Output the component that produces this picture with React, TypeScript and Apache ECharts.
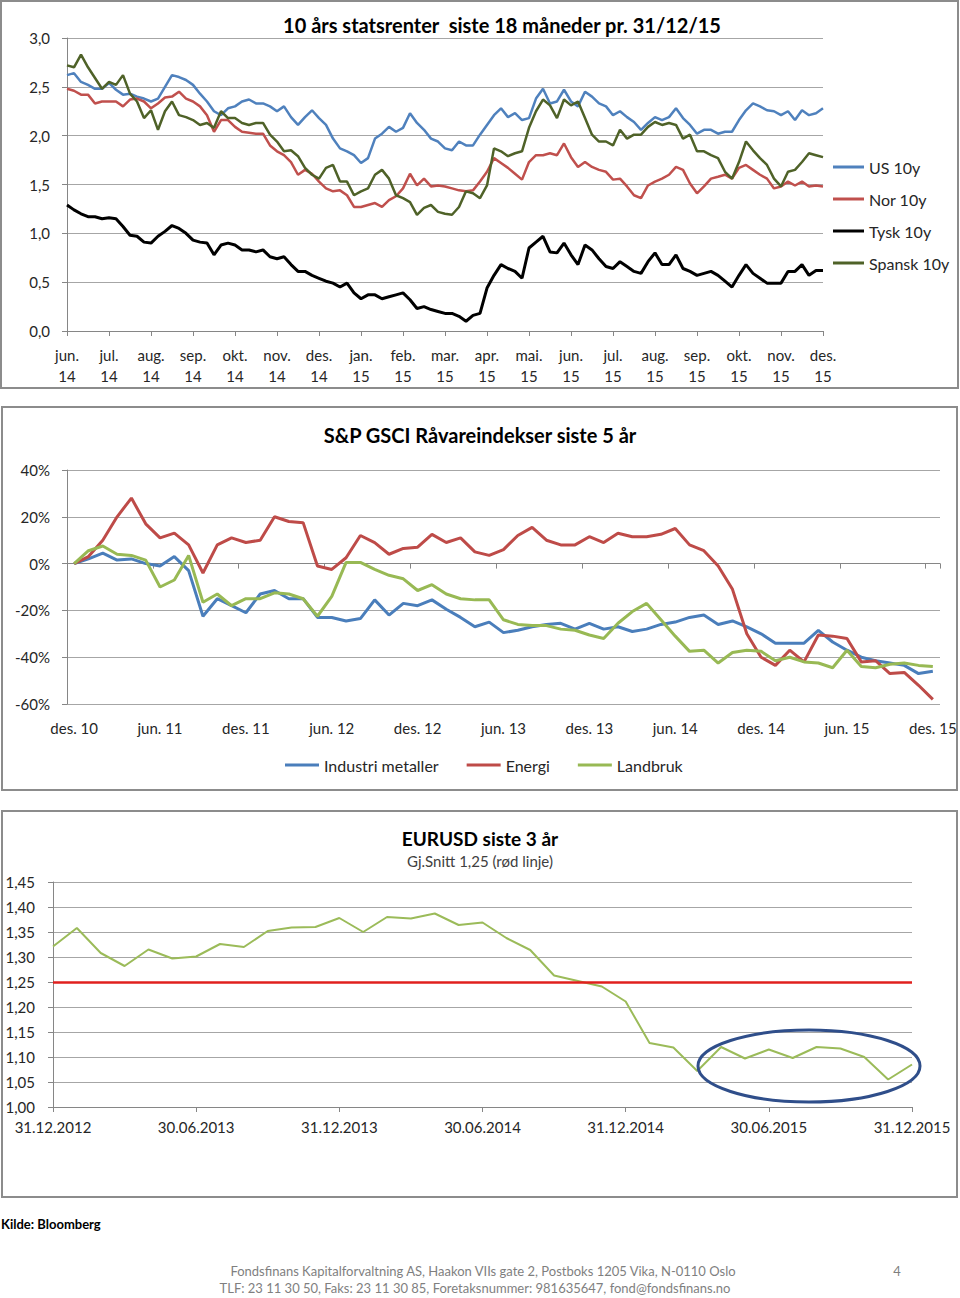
import React, { useEffect, useRef } from "react";
import * as echarts from "echarts";

const FONT = "Lato, 'Noto Sans', sans-serif";
const TEXT = "#262626";
const AXIS = "#868686";
const GRID = "#a6a6a6";

// ---------- Chart 1: 10 års statsrenter (6 points per month, jun 14 – des 15)
const rateMonthLabels = [
  "jun.\n14", "jul.\n14", "aug.\n14", "sep.\n14", "okt.\n14", "nov.\n14", "des.\n14",
  "jan.\n15", "feb.\n15", "mar.\n15", "apr.\n15", "mai.\n15", "jun.\n15", "jul.\n15",
  "aug.\n15", "sep.\n15", "okt.\n15", "nov.\n15", "des.\n15",
];
const pointsPerMonth = 6;
const rateTicks = [0, 0.5, 1.0, 1.5, 2.0, 2.5, 3.0];

const us10y = [
  2.62, 2.64, 2.55, 2.52, 2.48, 2.48, 2.54, 2.47, 2.42, 2.43,
  2.4, 2.38, 2.35, 2.38, 2.5, 2.62, 2.6, 2.57, 2.52, 2.43,
  2.35, 2.25, 2.21, 2.28, 2.3, 2.35, 2.37, 2.33,
  2.33, 2.3, 2.25, 2.3, 2.19, 2.11, 2.19, 2.26, 2.18, 2.11,
  1.97, 1.87, 1.84, 1.8, 1.72, 1.77, 1.97, 2.02, 2.09, 2.04,
  2.08, 2.23, 2.13, 2.06, 1.97, 1.94, 1.87,
  1.85, 1.94, 1.9, 1.9, 2.01, 2.11, 2.21, 2.28, 2.19, 2.23,
  2.16, 2.18, 2.38, 2.48, 2.33, 2.35, 2.47, 2.35, 2.3, 2.45,
  2.4, 2.33, 2.3, 2.21, 2.25, 2.19, 2.14,
  2.06, 2.13, 2.19, 2.16, 2.19, 2.28, 2.18, 2.11, 2.02, 2.06,
  2.06, 2.02, 2.04, 2.04, 2.16, 2.26, 2.33, 2.3, 2.26, 2.25,
  2.21, 2.25, 2.16, 2.26, 2.21, 2.23, 2.28,
];
const nor10y = [
  2.48, 2.46, 2.42, 2.42, 2.33, 2.35, 2.35, 2.35, 2.3, 2.37,
  2.38, 2.35, 2.28, 2.33, 2.39, 2.4, 2.45, 2.38, 2.35, 2.3,
  2.21, 2.04, 2.16, 2.16, 2.09, 2.04, 2.03, 2.02,
  2.02, 1.9, 1.84, 1.8, 1.73, 1.6, 1.65, 1.61, 1.53, 1.46,
  1.43, 1.44, 1.39, 1.27, 1.27, 1.29, 1.31, 1.27, 1.34, 1.38,
  1.46, 1.61, 1.49, 1.56, 1.48, 1.49, 1.48,
  1.46, 1.44, 1.43, 1.44, 1.53, 1.63, 1.77, 1.72, 1.67, 1.61,
  1.55, 1.73, 1.8, 1.8, 1.82, 1.8, 1.92, 1.78, 1.68, 1.73,
  1.68, 1.65, 1.63, 1.55, 1.56, 1.48, 1.39,
  1.36, 1.49, 1.53, 1.56, 1.6, 1.68, 1.65, 1.51, 1.41, 1.48,
  1.56, 1.58, 1.6, 1.56, 1.67, 1.7, 1.65, 1.6, 1.56, 1.46,
  1.48, 1.53, 1.49, 1.53, 1.48, 1.49, 1.48,
];
const tysk10y = [
  1.29, 1.24, 1.2, 1.17, 1.17, 1.15, 1.16, 1.15, 1.07, 0.98,
  0.97, 0.91, 0.9, 0.97, 1.02, 1.08, 1.05, 1.0, 0.93, 0.91,
  0.9, 0.78, 0.88, 0.9, 0.88, 0.83, 0.83, 0.81,
  0.83, 0.76, 0.74, 0.76, 0.68, 0.61, 0.61, 0.57, 0.54, 0.51,
  0.49, 0.45, 0.49, 0.39, 0.33, 0.37, 0.37, 0.33, 0.35, 0.37,
  0.39, 0.32, 0.23, 0.25, 0.22, 0.2, 0.18,
  0.18, 0.15, 0.1, 0.16, 0.18, 0.44, 0.57, 0.68, 0.64, 0.61,
  0.54, 0.85, 0.91, 0.97, 0.81, 0.8, 0.9, 0.78, 0.68, 0.88,
  0.83, 0.74, 0.66, 0.64, 0.71, 0.66, 0.61,
  0.59, 0.71, 0.8, 0.68, 0.68, 0.78, 0.64, 0.61, 0.57, 0.59,
  0.61, 0.57, 0.51, 0.45, 0.57, 0.68, 0.59, 0.54, 0.49, 0.49,
  0.49, 0.61, 0.61, 0.68, 0.57, 0.62, 0.62,
];
const spansk10y = [
  2.72, 2.7, 2.83, 2.7, 2.59, 2.48, 2.55, 2.52, 2.62, 2.43,
  2.35, 2.18, 2.26, 2.06, 2.25, 2.35, 2.21, 2.19, 2.16, 2.11,
  2.13, 2.08, 2.25, 2.18, 2.18, 2.13, 2.11, 2.13,
  2.13, 2.01, 1.94, 1.84, 1.85, 1.79, 1.67, 1.6, 1.56, 1.67,
  1.7, 1.53, 1.53, 1.39, 1.43, 1.46, 1.6, 1.65, 1.56, 1.39,
  1.36, 1.32, 1.19, 1.26, 1.29, 1.22, 1.2,
  1.19, 1.27, 1.43, 1.41, 1.36, 1.49, 1.87, 1.84, 1.79, 1.82,
  1.84, 2.08, 2.25, 2.37, 2.31, 2.18, 2.37, 2.31, 2.35, 2.18,
  2.01, 1.94, 1.94, 1.9, 2.06, 1.97, 2.01,
  2.01, 2.09, 2.14, 2.11, 2.13, 2.11, 1.97, 2.01, 1.84, 1.84,
  1.8, 1.77, 1.63, 1.56, 1.73, 1.94, 1.85, 1.77, 1.7, 1.56,
  1.48, 1.63, 1.65, 1.73, 1.82, 1.8, 1.78,
];

// ---------- Chart 2: S&P GSCI (monthly, des 10 – des 15, % change)
const monthAbbr = ["jan.", "feb.", "mar.", "apr.", "mai.", "jun.", "jul.", "aug.", "sep.", "okt.", "nov.", "des."];
const industriMetaller = [
  0, 2, 4.5, 1.5, 2, 0, -1, 3, -3, -22.5,
  -15, -18, -21, -13, -11.5, -15, -15, -23, -23, -24.5,
  -23.5, -15.5, -22, -17, -18, -15.5, -19.5, -23, -27, -25,
  -29.5, -28.5, -27, -26, -25.5, -28, -25.5, -28, -27, -29,
  -28, -26, -25, -23, -22, -26, -24.5, -27, -30, -34,
  -34, -34, -28.5, -33.5, -37, -40, -41.5, -42.5, -43.5, -47, -46,
];
const energi = [
  0, 3, 10, 20, 28, 17, 11, 13, 8, -4,
  8, 11, 9, 10, 20, 18, 17.5, -1, -2.5, 2.5,
  12, 9, 4, 6.5, 7, 12.5, 9, 11, 5, 3.5,
  6, 12, 15.5, 10, 8, 8, 11.5, 9, 13, 11.5,
  11.5, 12.5, 15, 8, 5.5, -1, -11, -30, -40, -43.5,
  -37, -42, -30.5, -31, -32, -42, -41.5, -47, -46.5, -52, -58,
];
const landbruk = [
  0, 5.5, 7.5, 4, 3.5, 1.5, -10, -7, 3.5, -16.5,
  -13, -18, -15, -15, -12.5, -13, -15, -22.5, -14, 0.5,
  0.5, -2.5, -5, -6.5, -11.5, -9, -13, -15, -15.5, -15.5,
  -24, -26, -26.5, -26.5, -28, -28.5, -30.5, -32, -25.5, -20.5,
  -17, -24, -31, -37.5, -37, -42.5, -38, -37, -37.5, -41.5,
  -40, -42, -42.5, -44.5, -37, -44, -44.5, -43, -42.5, -43.5, -44,
];

// ---------- Chart 3: EURUSD (month-end, 31.12.2012 – 31.12.2015)
const eurusd = [
  1.321, 1.358, 1.308, 1.282, 1.315, 1.297, 1.301, 1.326, 1.32, 1.352,
  1.359, 1.36, 1.378, 1.35, 1.38, 1.377, 1.387, 1.364, 1.369, 1.338,
  1.314, 1.263, 1.252, 1.241, 1.211, 1.128, 1.119, 1.072, 1.12, 1.097,
  1.115, 1.098, 1.12, 1.117, 1.1, 1.055, 1.085,
];
const eurAverage = 1.25;

// ---------- derived category lists
const rateCategories: string[] = [];
rateMonthLabels.forEach((m, i) => {
  rateCategories.push(m);
  if (i < rateMonthLabels.length - 1) {
    for (let w = 1; w < pointsPerMonth; w++) rateCategories.push(`${m} #${w}`);
  }
});

const gsciCategories: string[] = industriMetaller.map((_, k) => {
  const m = (11 + k) % 12;
  const y = 10 + Math.floor((11 + k) / 12);
  return `${monthAbbr[m]} ${y}`;
});

const eurCategories: string[] = eurusd.map((_, k) => {
  const m = (11 + k) % 12;
  const y = 2012 + Math.floor((11 + k) / 12);
  const d = new Date(y, m + 1, 0).getDate();
  return `${String(d).padStart(2, "0")}.${String(m + 1).padStart(2, "0")}.${y}`;
});

const comma = (v: number, d: number) => v.toFixed(d).replace(".", ",");

const axisLineStyle = { show: true, lineStyle: { color: AXIS, width: 1 } };
const tickStyle = { lineStyle: { color: AXIS, width: 1 } };
const labelBase = { color: TEXT, fontFamily: FONT, fontSize: 15 };
const splitStyle = { show: true, lineStyle: { color: GRID, width: 1 } };

function buildOption(): any {
  return {
    animation: false,
    backgroundColor: "#ffffff",
    textStyle: { fontFamily: FONT },
    grid: [
      { left: 67, top: 38, width: 756, height: 293 },
      { left: 67, top: 470, width: 873, height: 234 },
      { left: 53, top: 882, width: 859, height: 225 },
    ],
    xAxis: [
      {
        gridIndex: 0,
        type: "category",
        data: rateCategories,
        boundaryGap: false,
        axisLine: axisLineStyle,
        axisTick: { show: true, interval: pointsPerMonth - 1, length: 5, ...tickStyle },
        axisLabel: { ...labelBase, interval: pointsPerMonth - 1, margin: 13, lineHeight: 21 },
        splitLine: { show: false },
      },
      {
        gridIndex: 1,
        type: "category",
        position: "bottom",
        data: gsciCategories,
        boundaryGap: true,
        axisLine: { show: false, onZero: false },
        axisTick: { show: false },
        axisLabel: { ...labelBase, interval: 5, margin: 16 },
        splitLine: { show: false },
      },
      {
        gridIndex: 1,
        type: "category",
        position: "bottom",
        data: gsciCategories,
        boundaryGap: true,
        axisLine: { show: true, onZero: true, lineStyle: { color: AXIS, width: 1 } },
        axisTick: { show: true, interval: 5, length: 5, ...tickStyle },
        axisLabel: { show: false },
        splitLine: { show: false },
      },
      {
        gridIndex: 2,
        type: "category",
        data: eurCategories,
        boundaryGap: false,
        axisLine: axisLineStyle,
        axisTick: { show: true, interval: 5, length: 5, ...tickStyle },
        axisLabel: { ...labelBase, interval: 5, margin: 12 },
        splitLine: { show: false },
      },
    ],
    yAxis: [
      {
        gridIndex: 0,
        type: "value",
        min: rateTicks[0],
        max: rateTicks[rateTicks.length - 1],
        interval: 0.5,
        axisLine: axisLineStyle,
        axisTick: { show: true, length: 5, ...tickStyle },
        axisLabel: { ...labelBase, margin: 17, formatter: (v: number) => comma(v, 1) },
        splitLine: splitStyle,
      },
      {
        gridIndex: 1,
        type: "value",
        min: -60,
        max: 40,
        interval: 20,
        axisLine: axisLineStyle,
        axisTick: { show: true, length: 5, ...tickStyle },
        axisLabel: { ...labelBase, margin: 17, formatter: (v: number) => `${v}%` },
        splitLine: splitStyle,
      },
      {
        gridIndex: 2,
        type: "value",
        min: 1.0,
        max: 1.45,
        interval: 0.05,
        axisLine: axisLineStyle,
        axisTick: { show: true, length: 5, ...tickStyle },
        axisLabel: { ...labelBase, margin: 18, formatter: (v: number) => comma(v, 2) },
        splitLine: splitStyle,
      },
    ],
    legend: [
      {
        data: ["US 10y", "Nor 10y", "Tysk 10y", "Spansk 10y"],
        orient: "vertical",
        left: 833,
        top: 159,
        padding: 0,
        icon: "rect",
        itemWidth: 31,
        itemHeight: 3,
        itemGap: 16,
        selectedMode: false,
        textStyle: { color: TEXT, fontFamily: FONT, fontSize: 16 },
      },
      {
        data: ["Industri metaller", "Energi", "Landbruk"],
        orient: "horizontal",
        left: 285,
        top: 757,
        padding: 0,
        icon: "rect",
        itemWidth: 34,
        itemHeight: 3,
        itemGap: 28,
        selectedMode: false,
        textStyle: { color: TEXT, fontFamily: FONT, fontSize: 16 },
      },
    ],
    series: [
      { name: "US 10y", type: "line", xAxisIndex: 0, yAxisIndex: 0, data: us10y, color: "#4F81BD", showSymbol: false, lineStyle: { width: 2.5 } },
      { name: "Nor 10y", type: "line", xAxisIndex: 0, yAxisIndex: 0, data: nor10y, color: "#C0504D", showSymbol: false, lineStyle: { width: 2.5 } },
      { name: "Tysk 10y", type: "line", xAxisIndex: 0, yAxisIndex: 0, data: tysk10y, color: "#000000", showSymbol: false, lineStyle: { width: 3 } },
      { name: "Spansk 10y", type: "line", xAxisIndex: 0, yAxisIndex: 0, data: spansk10y, color: "#4F6228", showSymbol: false, lineStyle: { width: 2.5 } },
      { name: "Industri metaller", type: "line", xAxisIndex: 1, yAxisIndex: 1, data: industriMetaller, color: "#4A7EBB", showSymbol: false, lineStyle: { width: 3 } },
      { name: "Energi", type: "line", xAxisIndex: 1, yAxisIndex: 1, data: energi, color: "#BE4B48", showSymbol: false, lineStyle: { width: 3 } },
      { name: "Landbruk", type: "line", xAxisIndex: 1, yAxisIndex: 1, data: landbruk, color: "#98B954", showSymbol: false, lineStyle: { width: 3 } },
      {
        name: "EURUSD",
        type: "line",
        xAxisIndex: 3,
        yAxisIndex: 2,
        data: eurusd,
        color: "#9BBB59",
        showSymbol: false,
        lineStyle: { width: 2 },
        markLine: {
          silent: true,
          symbol: "none",
          label: { show: false },
          lineStyle: { color: "#E0201E", width: 2.5, type: "solid" },
          data: [{ yAxis: eurAverage }],
        },
        z: 3,
      },
    ],
    graphic: [
      { type: "rect", silent: true, z: -1, shape: { x: 1, y: 1, width: 957, height: 387 }, style: { fill: "transparent", stroke: "#8c8c8c", lineWidth: 2 } },
      { type: "rect", silent: true, z: -1, shape: { x: 2, y: 407, width: 955, height: 383 }, style: { fill: "transparent", stroke: "#8c8c8c", lineWidth: 2 } },
      { type: "rect", silent: true, z: -1, shape: { x: 2, y: 811, width: 955, height: 386 }, style: { fill: "transparent", stroke: "#8c8c8c", lineWidth: 2 } },
      { type: "text", silent: true, x: 502, y: 25, style: { text: "10 års statsrenter  siste 18 måneder pr. 31/12/15", font: `bold 20px ${FONT}`, fill: "#000", textAlign: "center", textVerticalAlign: "middle" } },
      { type: "text", silent: true, x: 480, y: 435, style: { text: "S&P GSCI Råvareindekser siste 5 år", font: `bold 20px ${FONT}`, fill: "#000", textAlign: "center", textVerticalAlign: "middle" } },
      { type: "text", silent: true, x: 480, y: 838, style: { text: "EURUSD siste 3 år", font: `bold 19px ${FONT}`, fill: "#000", textAlign: "center", textVerticalAlign: "middle" } },
      { type: "text", silent: true, x: 480, y: 861, style: { text: "Gj.Snitt 1,25 (rød linje)", font: `15px ${FONT}`, fill: "#404040", textAlign: "center", textVerticalAlign: "middle" } },
      { type: "ellipse", silent: true, z: 100, shape: { cx: 809, cy: 1066, rx: 111, ry: 36 }, style: { fill: "transparent", stroke: "#2F4E8A", lineWidth: 3 } },
      { type: "text", silent: true, x: 1, y: 1224, style: { text: "Kilde: Bloomberg", font: `bold 13px ${FONT}`, fill: "#000", textAlign: "left", textVerticalAlign: "middle" } },
      { type: "text", silent: true, x: 483, y: 1271, style: { text: "Fondsfinans Kapitalforvaltning AS, Haakon VIIs gate 2, Postboks 1205 Vika, N-0110 Oslo", font: `13px ${FONT}`, fill: "#7f7f7f", textAlign: "center", textVerticalAlign: "middle" } },
      { type: "text", silent: true, x: 475, y: 1288, style: { text: "TLF: 23 11 30 50, Faks: 23 11 30 85, Foretaksnummer: 981635647, fond@fondsfinans.no", font: `13px ${FONT}`, fill: "#7f7f7f", textAlign: "center", textVerticalAlign: "middle" } },
      { type: "text", silent: true, x: 897, y: 1271, style: { text: "4", font: `13px ${FONT}`, fill: "#7f7f7f", textAlign: "center", textVerticalAlign: "middle" } },
    ],
  };
}

export default function App() {
  const ref = useRef<HTMLDivElement>(null);
  useEffect(() => {
    if (!ref.current) return;
    const chart = echarts.init(ref.current, null, { renderer: "svg" });
    chart.setOption(buildOption());
    return () => chart.dispose();
  }, []);
  return (
    <div
      ref={ref}
      style={{ position: "absolute", left: 0, top: 0, width: 960, height: 1298, background: "#ffffff" }}
    />
  );
}
